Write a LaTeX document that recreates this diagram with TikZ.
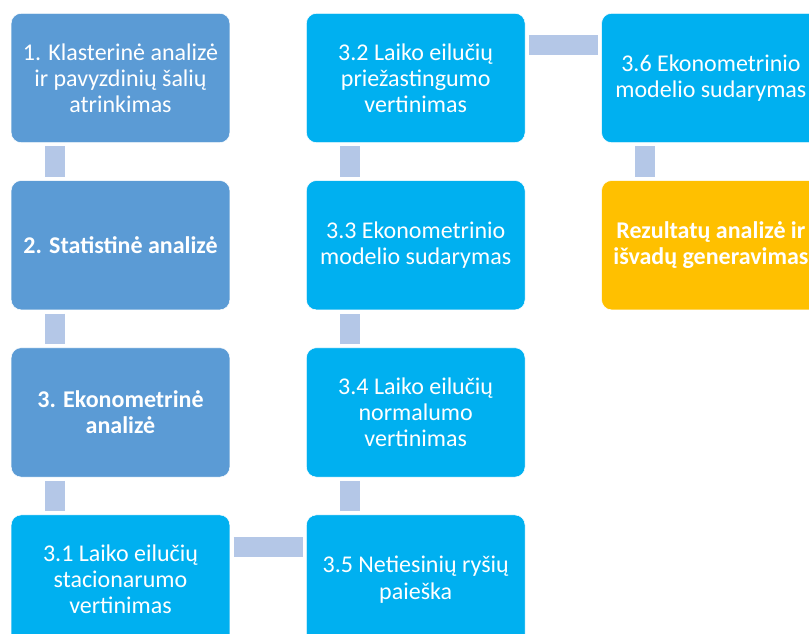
\documentclass[tikz,border=0pt]{standalone}
\usepackage{fontspec}
\setmainfont{Carlito}
\usetikzlibrary{positioning}
\definecolor{stepblue}{HTML}{5B9BD5}
\definecolor{stepcyan}{HTML}{00B0F0}
\definecolor{stepgold}{HTML}{FFC000}
\definecolor{linkblue}{HTML}{B4C7E7}

\begin{document}
\begin{tikzpicture}[x=0.75pt,y=-0.75pt,
  stepbox/.style={rectangle,rounded corners=7.5pt,draw=white,line width=0.4pt,
    text=white,align=center,inner sep=0pt,
    minimum width=164pt,minimum height=97pt,
    font=\fontsize{18}{19.6}\selectfont},
  mainstep/.style={stepbox,fill=stepblue},
  substep/.style={stepbox,fill=stepcyan},
  endstep/.style={stepbox,fill=stepgold,font=\fontsize{18}{19.6}\selectfont\bfseries},
  link/.style={draw=linkblue,line width=15pt,shorten <=2.6pt,shorten >=2.6pt}]
      \useasboundingbox (0,0) rectangle (809,634);
      \clip (0,0) rectangle (809,634);
      % first column
      \node[mainstep] (s1) at (120.5,78) {1. Klasterinė analizė\\ir pavyzdinių šalių\\atrinkimas};
      \node[mainstep,font=\fontsize{18}{19.6}\selectfont\bfseries,below=28pt of s1] (s2) {2. Statistinė analizė};
      \node[mainstep,font=\fontsize{18}{19.6}\selectfont\bfseries,below=28pt of s2] (s3) {3. Ekonometrinė\\analizė};
      \node[substep,below=28pt of s3] (s31) {3.1 Laiko eilučių\\stacionarumo\\vertinimas};
      % second column
      \node[substep,right=57pt of s31] (s35) {3.5 Netiesinių ryšių\\paieška};
      \node[substep,above=28pt of s35] (s34) {3.4 Laiko eilučių\\normalumo\\vertinimas};
      \node[substep,above=28pt of s34] (s33) {3.3 Ekonometrinio\\modelio sudarymas};
      \node[substep,above=28pt of s33] (s32) {3.2 Laiko eilučių\\priežastingumo\\vertinimas};
      % third column
      \node[substep,right=57pt of s32] (s36) {3.6 Ekonometrinio\\modelio sudarymas};
      \node[endstep,below=28pt of s36] (res) {Rezultatų analizė ir\\išvadų generavimas};
      % links
      \draw[link] ([xshift=33pt]s1.south west) -- ([xshift=33pt]s2.north west);
      \draw[link] ([xshift=33pt]s2.south west) -- ([xshift=33pt]s3.north west);
      \draw[link] ([xshift=33pt]s3.south west) -- ([xshift=33pt]s31.north west);
      \draw[link] ([yshift=-24pt]s31.north east) -- ([yshift=-24pt]s35.north west);
      \draw[link] ([xshift=33pt]s35.north west) -- ([xshift=33pt]s34.south west);
      \draw[link] ([xshift=33pt]s34.north west) -- ([xshift=33pt]s33.south west);
      \draw[link] ([xshift=33pt]s33.north west) -- ([xshift=33pt]s32.south west);
      \draw[link] ([yshift=-24pt]s32.north east) -- ([yshift=-24pt]s36.north west);
      \draw[link] ([xshift=33pt]s36.south west) -- ([xshift=33pt]res.north west);
\end{tikzpicture}
\end{document}
